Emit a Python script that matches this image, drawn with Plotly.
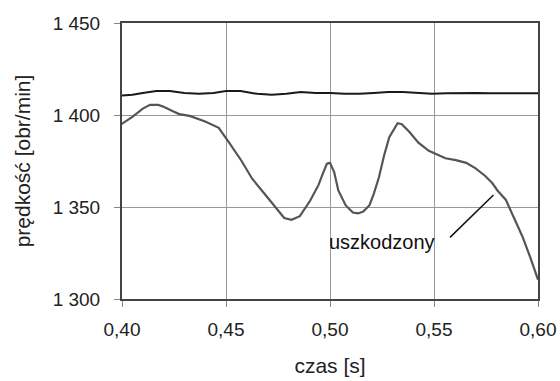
import plotly.graph_objects as go

# Damaged motor speed (uszkodzony)
t_damaged = [0.399, 0.405, 0.410, 0.4135, 0.4175, 0.420, 0.4245, 0.4275, 0.4325, 0.435, 0.440, 0.4465,
             0.4485, 0.4515, 0.4575, 0.4625, 0.469, 0.4745, 0.478, 0.4815, 0.4855, 0.4905, 0.4945,
             0.4965, 0.4985, 0.500, 0.502, 0.504, 0.5075, 0.511, 0.5135, 0.516, 0.519, 0.521, 0.5235,
             0.526, 0.5285, 0.5325, 0.5345, 0.538, 0.5425, 0.5475, 0.5535, 0.5555, 0.5605, 0.5655, 0.570,
             0.5745, 0.578, 0.5805, 0.5845, 0.5885, 0.5925, 0.5965, 0.600]
v_damaged = [1394.5, 1399.0, 1403.5, 1405.5, 1405.5, 1404.5, 1402.0, 1400.5, 1399.5, 1398.5, 1396.5,
             1393.0, 1389.5, 1385.0, 1375.0, 1365.5, 1356.5, 1348.5, 1344.0, 1343.0, 1345.0, 1353.5,
             1362.0, 1368.0, 1373.5, 1374.0, 1369.0, 1359.0, 1351.0, 1347.0, 1346.5, 1347.5, 1351.0,
             1357.0, 1366.0, 1378.0, 1388.0, 1395.5, 1395.0, 1391.0, 1385.0, 1380.5, 1377.5, 1376.5,
             1375.5, 1374.0, 1371.0, 1367.0, 1363.0, 1359.0, 1354.0, 1344.0, 1334.0, 1322.0, 1310.5]

# Healthy motor speed
t_healthy = [0.399, 0.405, 0.410, 0.4165, 0.423, 0.430, 0.437, 0.444, 0.450, 0.457, 0.465, 0.472,
             0.479, 0.486, 0.493, 0.500, 0.507, 0.514, 0.521, 0.528, 0.535, 0.542, 0.549, 0.556,
             0.563, 0.570, 0.577, 0.584, 0.591, 0.600]
v_healthy = [1410.5, 1411.0, 1412.0, 1413.0, 1413.0, 1412.0, 1411.5, 1412.0, 1413.0, 1413.0, 1411.5,
             1411.0, 1411.5, 1412.5, 1412.0, 1412.0, 1411.5, 1411.5, 1412.0, 1412.5, 1412.5, 1412.0,
             1411.5, 1411.8, 1412.0, 1412.0, 1411.8, 1411.8, 1412.0, 1411.8]

x_ticks = [0.40, 0.45, 0.50, 0.55, 0.60]
x_labels = ["0,40", "0,45", "0,50", "0,55", "0,60"]
y_ticks = [1300, 1350, 1400, 1450]
y_labels = ["1 300", "1 350", "1 400", "1 450"]

FAM = "Liberation Sans, Arial, sans-serif"

fig = go.Figure()
fig.add_trace(go.Scatter(x=t_healthy, y=v_healthy, mode="lines", line=dict(color="#1a1a1a", width=2),
                         showlegend=False))
fig.add_trace(go.Scatter(x=t_damaged, y=v_damaged, mode="lines", line=dict(color="#555555", width=2.2),
                         showlegend=False))

fig.add_annotation(x=0.5577, y=1333.5, ax=0.5793, ay=1357.3, xref="x", yref="y", axref="x", ayref="y",
                   showarrow=True, arrowhead=0, arrowwidth=1.5, arrowcolor="#111", text="")
fig.add_annotation(x=0.525, y=1331, xref="x", yref="y", text="uszkodzony", showarrow=False,
                   xanchor="center", yanchor="middle", font=dict(size=20, color="#111", family=FAM))

font = dict(family=FAM, size=19, color="#222")
fig.update_layout(
    width=560, height=381, margin=dict(l=122, r=22, t=23, b=82, autoexpand=False),
    paper_bgcolor="white", plot_bgcolor="white", font=font,
    xaxis=dict(range=[0.40, 0.60], tickvals=x_ticks, ticktext=x_labels, showgrid=True,
               gridcolor="#999999", gridwidth=1, showline=True, linecolor="#444444", linewidth=2,
               mirror=True, ticks="outside", ticklen=6, tickcolor="#888888", ticklabelstandoff=6,
               title=dict(text="czas [s]", standoff=20, font=dict(size=21)), zeroline=False,
               automargin=False),
    yaxis=dict(range=[1300, 1450], tickvals=y_ticks, ticktext=y_labels, showgrid=True,
               gridcolor="#999999", gridwidth=1, showline=True, linecolor="#444444", linewidth=2,
               mirror=True, ticks="outside", ticklen=6, tickcolor="#888888", ticklabelstandoff=10,
               title=dict(text="prędkość [obr/min]", standoff=16, font=dict(size=21)), zeroline=False,
               automargin=False),
)

fig.write_html("out.html")
